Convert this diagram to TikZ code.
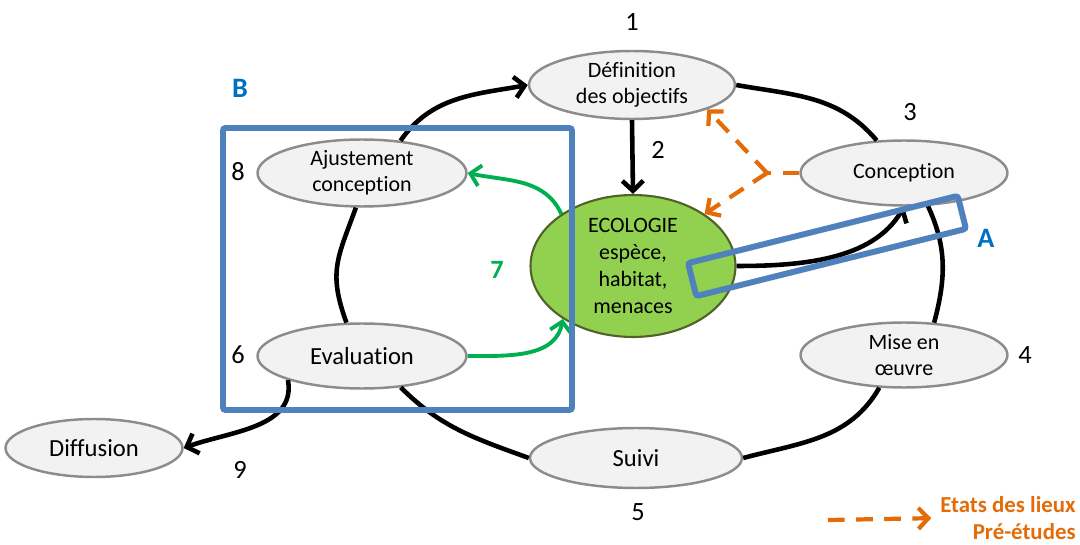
\documentclass[tikz,border=0pt]{standalone}
\usepackage{fontspec}
\setmainfont[Ligatures=NoCommon]{Carlito}
\usetikzlibrary{arrows.meta,shapes.geometric}

\definecolor{phasegray}{HTML}{F2F2F2}
\definecolor{phaseline}{HTML}{8C8C8C}
\definecolor{ecogreen}{HTML}{92D050}
\definecolor{ecoline}{HTML}{4F6228}
\definecolor{fbgreen}{HTML}{00B050}
\definecolor{frameblue}{HTML}{4F81BD}
\definecolor{tagblue}{HTML}{0070C0}
\definecolor{prepor}{HTML}{E36C09}

\begin{document}
\begin{tikzpicture}[
  x=0.02cm, y=0.02cm,
  >={Straight Barb[length=2mm,width=4.2mm]},
  phase/.style={ellipse, draw=phaseline, line width=1.4pt, fill=phasegray,
                inner sep=0pt, align=center, minimum width=4.14cm,
                minimum height=1.3cm, font=\fontsize{12.5}{15}\selectfont},
  bigtext/.style={font=\fontsize{14}{17}\selectfont},
  core/.style={ellipse, draw=ecoline, line width=1.2pt, fill=ecogreen,
               inner sep=0pt, align=center, minimum width=4.1cm,
               minimum height=2.84cm, font=\fontsize{12.5}{15.3}\selectfont},
  flow/.style={line width=2.6pt, black},
  feedback/.style={line width=2.2pt, fbgreen},
  survey/.style={line width=2.4pt, prepor, dash pattern=on 9.5pt off 6.5pt},
  frame/.style={line width=3.4pt, frameblue, rounded corners=1.5pt},
  num/.style={font=\fontsize{15}{18}\selectfont},
  tag/.style={font=\fontsize{16}{19}\selectfont\bfseries, text=tagblue},
]
  \useasboundingbox (0,0) rectangle (1080,545);

  % Phases of the cycle
  \node[phase, minimum width=4.12cm, minimum height=1.36cm] (def) at (632,460)
    {Définition\\des objectifs};
  \node[phase] (conc) at (904,372) {Conception};
  \node[phase] (mise) at (904,190) {Mise en\\œuvre};
  \node[phase, bigtext, minimum width=4.24cm, minimum height=1.2cm] (suivi)
    at (636,87) {Suivi};
  \node[phase, bigtext, minimum width=4.18cm] (eval) at (362,189) {Evaluation};
  \node[phase, minimum width=4.18cm, minimum height=1.34cm] (ajust) at (362,372)
    {Ajustement\\conception};
  \node[phase, bigtext, minimum width=3.54cm, minimum height=1.16cm] (diff)
    at (94,97) {Diffusion};
  \node[core] (eco) at (633,279) {ECOLOGIE\\espèce,\\habitat,\\menaces};

  % Step numbers
  \node[num] (n1) at (632,523) {1};
  \node[num] (n2) at (658,395) {2};
  \node[num] (n3) at (910,433) {3};
  \node[num] (n4) at (1025,190) {4};
  \node[num] (n5) at (638,33) {5};
  \node[num] (n6) at (238,190) {6};
  \node[num, text=fbgreen, font=\fontsize{15}{18}\selectfont\bfseries] (n7)
    at (497,275) {7};
  \node[num] (n8) at (238,373) {8};
  \node[num] (n9) at (240,75) {9};

  % Main cycle
  \draw[flow,->] (ajust.40) to[out=55,in=190] (def.west);
  \draw[flow] (def.east) to[out=-10,in=130] (conc.130);
  \draw[flow] (conc.-54) to[out=-65,in=75] (mise.47);
  \draw[flow] (mise.-127) to[out=-120,in=15] (suivi.east);
  \draw[flow] (suivi.west) to[out=160,in=-45] (eval.-39);
  \draw[flow] (eval.115) to[out=110,in=-110,looseness=1.2] (ajust.-100);
  \draw[flow,->] (eval.-162) to[out=-80,in=20] (diff.east);
  \draw[flow,->] (def.south) -- (eco.north);
  \draw[flow,->] (eco.east) to[out=0,in=-120,looseness=0.9] (conc.south);

  % Feedback through ecology
  \draw[feedback,->] (eco.144) to[out=115,in=-12] (ajust.east);
  \draw[feedback,->] (eval.east) to[out=0,in=-100] (eco.-143);

  % Preliminary studies
  \coordinate (fork) at (767,372);
  \draw[survey] (conc.west) -- (fork);
  \draw[survey,->] (fork) -- (def.-18);
  \draw[survey,->] (fork) -- (eco.36);

  % Zones A and B
  \draw[frame] (223,417) rectangle (572,135);
  \node[frame, draw, rotate=14, minimum width=5.56cm, minimum height=0.68cm,
        inner sep=0pt] (zoneA) at (827,299) {};
  \node[tag] (tagA) at (986,307) {A};
  \node[tag] (tagB) at (240,457) {B};

  % Legend
  \coordinate (keyfrom) at (828,25);
  \node[anchor=east, align=right, inner sep=0pt, text=prepor,
        font=\fontsize{13}{15.5}\selectfont\bfseries] (keytxt) at (1076,27)
    {Etats des lieux\\Pré-études};
  \draw[survey,->,shorten >=5pt] (keyfrom) -- (keytxt.west);
\end{tikzpicture}
\end{document}
